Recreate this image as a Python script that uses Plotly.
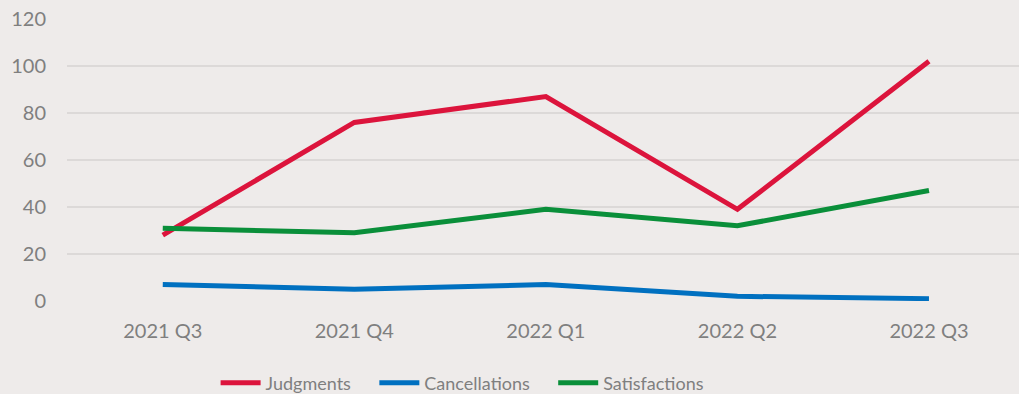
import plotly.graph_objects as go

quarters = ["2021 Q3", "2021 Q4", "2022 Q1", "2022 Q2", "2022 Q3"]
judgments = [28, 76, 87, 39, 102]
cancellations = [7, 5, 7, 2, 1]
satisfactions = [31, 29, 39, 32, 47]
y_ticks = [0, 20, 40, 60, 80, 100, 120]

series = [
    ("Judgments", judgments, "#DC143C"),
    ("Cancellations", cancellations, "#0070C0"),
    ("Satisfactions", satisfactions, "#0A8F3A"),
]

# trailing non-breaking spaces widen the gap between legend entries
pad = "\u00a0" * 4

fig = go.Figure()
for name, values, color in series:
    fig.add_trace(go.Scatter(
        x=quarters, y=values, name=name + pad, mode="lines",
        line=dict(color=color, width=5),
    ))

bg = "#EEEBEA"
text_color = "#7F7F7F"
fig.update_layout(
    width=1019, height=394,
    margin=dict(l=67, r=0, t=19, b=93, autoexpand=False),
    paper_bgcolor=bg, plot_bgcolor=bg,
    font=dict(family="Lato, Open Sans, sans-serif", size=20, color=text_color),
    showlegend=True,
    legend=dict(
        orientation="h", x=0.425, xanchor="center", y=-0.291, yanchor="middle",
        font=dict(size=18, color=text_color), itemwidth=40,
        traceorder="normal",
    ),
    xaxis=dict(
        type="category", range=[-0.5, 4.47], showgrid=False, showline=False,
        zeroline=False, ticks="", ticklabelstandoff=16,
    ),
    yaxis=dict(
        range=[0, 120], tickvals=y_ticks, showgrid=True, gridcolor="#DCD9D8",
        gridwidth=1.5, zeroline=False, showline=False, ticks="",
        ticklabelstandoff=20,
    ),
)

fig.write_html("out.html")
